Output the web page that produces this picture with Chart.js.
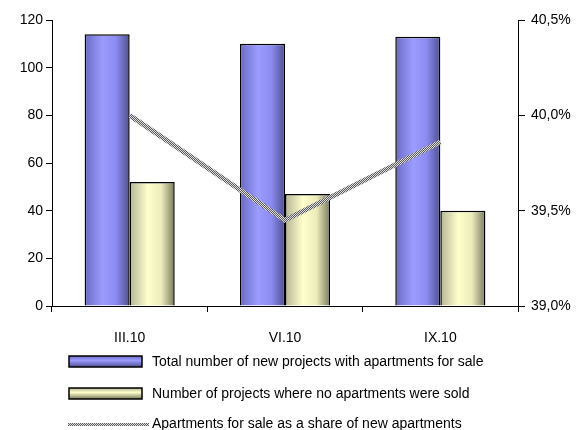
<!DOCTYPE html>
<html>
<head>
<meta charset="utf-8">
<script src="https://cdn.jsdelivr.net/npm/chart.js@4/dist/chart.umd.min.js"></script>
<style>
  body { margin: 0; background: #fff; }
  canvas { display: block; }
</style>
</head>
<body>
<canvas id="chart" width="581" height="430"></canvas>
<script>
const periods = ['III.10', 'VI.10', 'IX.10'];
const totalProjects = [114, 110, 113];
const unsoldProjects = [52, 47, 40];
const shareForSale = [40.0, 39.45, 39.86];
const countTicks = [0, 20, 40, 60, 80, 100, 120];
const shareTicks = [39.0, 39.5, 40.0, 40.5];

const seriesNames = [
  'Total number of new projects with apartments for sale',
  'Number of projects where no apartments were sold',
  'Apartments for sale as a share of new apartments'
];

const FONT = 'Liberation Sans, Arial, sans-serif';
const ctx = document.getElementById('chart').getContext('2d');

// checkered grey texture for the share line
function linePattern() {
  const c = document.createElement('canvas');
  c.width = 2; c.height = 2;
  const g = c.getContext('2d');
  g.fillStyle = '#5c5c5c';
  g.fillRect(0, 0, 2, 2);
  g.fillStyle = '#dcdcdc';
  g.fillRect(0, 0, 1, 1);
  g.fillRect(1, 1, 1, 1);
  return ctx.createPattern(c, 'repeat');
}
const pattern = linePattern();

const shades = {
  blue: ['#6a6ac4', '#9c9cff', '#8a8af0', '#505090'],
  cream: ['#b4b494', '#ffffcc', '#ececbb', '#7a7a5e']
};

function barGradient(x0, x1, s) {
  const g = ctx.createLinearGradient(x0, 0, x1, 0);
  g.addColorStop(0, s[0]);
  g.addColorStop(0.4, s[1]);
  g.addColorStop(0.7, s[2]);
  g.addColorStop(1, s[3]);
  return g;
}

// shade each bar with a horizontal cylinder-like gradient
// (options are shared between bars, so each one gets its own copy)
const barShading = {
  id: 'barShading',
  beforeDatasetsDraw(chart) {
    [0, 1].forEach(i => {
      const s = i === 0 ? shades.blue : shades.cream;
      chart.getDatasetMeta(i).data.forEach(bar => {
        const half = bar.width / 2;
        bar.options = Object.assign({}, bar.options, {
          backgroundColor: barGradient(bar.x - half, bar.x + half, s)
        });
      });
    });
  }
};

// legend stacked in three rows under the axis
const rowsLegend = {
  id: 'rowsLegend',
  afterDraw(chart) {
    const c = chart.ctx;
    const rows = [362, 394, 424];
    c.save();
    c.font = '14px ' + FONT;
    c.textBaseline = 'middle';
    rows.forEach((y, i) => {
      if (i < 2) {
        const s = i === 0 ? shades.blue : shades.cream;
        const g = c.createLinearGradient(0, y - 6, 0, y + 5);
        g.addColorStop(0, s[0]);
        g.addColorStop(0.4, s[1]);
        g.addColorStop(1, s[3]);
        c.fillStyle = g;
        c.fillRect(69, y - 6, 73, 11);
        c.lineWidth = 1.5;
        c.strokeStyle = '#000';
        c.strokeRect(69, y - 6, 73, 11);
      } else {
        c.fillStyle = pattern;
        c.fillRect(68, y - 1, 81, 3);
      }
      c.fillStyle = '#000';
      c.fillText(seriesNames[i], 152, y);
    });
    c.restore();
  }
};

new Chart(ctx, {
  type: 'bar',
  data: {
    labels: periods,
    datasets: [
      {
        label: seriesNames[0],
        data: totalProjects,
        backgroundColor: '#9999ff',
        borderColor: '#000',
        borderWidth: 1.5,
        categoryPercentage: 0.58,
        barPercentage: 1,
        yAxisID: 'y',
        order: 1
      },
      {
        label: seriesNames[1],
        data: unsoldProjects,
        backgroundColor: '#ffffcc',
        borderColor: '#000',
        borderWidth: 1.5,
        categoryPercentage: 0.58,
        barPercentage: 1,
        yAxisID: 'y',
        order: 1
      },
      {
        type: 'line',
        label: seriesNames[2],
        data: shareForSale,
        borderColor: pattern,
        borderWidth: 5,
        pointRadius: 0,
        tension: 0,
        yAxisID: 'y1',
        order: 0
      }
    ]
  },
  options: {
    responsive: false,
    animation: false,
    layout: { padding: { top: 20, left: 0, right: 0, bottom: 80 } },
    plugins: {
      legend: { display: false },
      tooltip: { enabled: false }
    },
    scales: {
      x: {
        grid: { offset: true, drawOnChartArea: false, tickLength: 6, color: '#000' },
        border: { color: '#000', width: 1 },
        ticks: { color: '#000', font: { family: FONT, size: 14 }, padding: 18 },
        afterFit(scale) { scale.height = 44; }
      },
      y: {
        position: 'left',
        min: 0,
        max: 120,
        afterBuildTicks(scale) { scale.ticks = countTicks.map(v => ({ value: v })); },
        grid: { drawOnChartArea: false, tickLength: 6, color: '#000' },
        border: { color: '#000', width: 1 },
        ticks: { color: '#000', font: { family: FONT, size: 14 }, padding: 3 },
        afterFit(scale) { scale.width = 52; }
      },
      y1: {
        position: 'right',
        min: 39.0,
        max: 40.5,
        afterBuildTicks(scale) { scale.ticks = shareTicks.map(v => ({ value: v })); },
        grid: { drawOnChartArea: false, tickLength: 7, color: '#000' },
        border: { color: '#000', width: 1 },
        ticks: {
          color: '#000',
          font: { family: FONT, size: 14 },
          padding: 6,
          callback: v => v.toFixed(1).replace('.', ',') + '%'
        },
        afterFit(scale) { scale.width = 63; }
      }
    }
  },
  plugins: [barShading, rowsLegend]
});
</script>
</body>
</html>
